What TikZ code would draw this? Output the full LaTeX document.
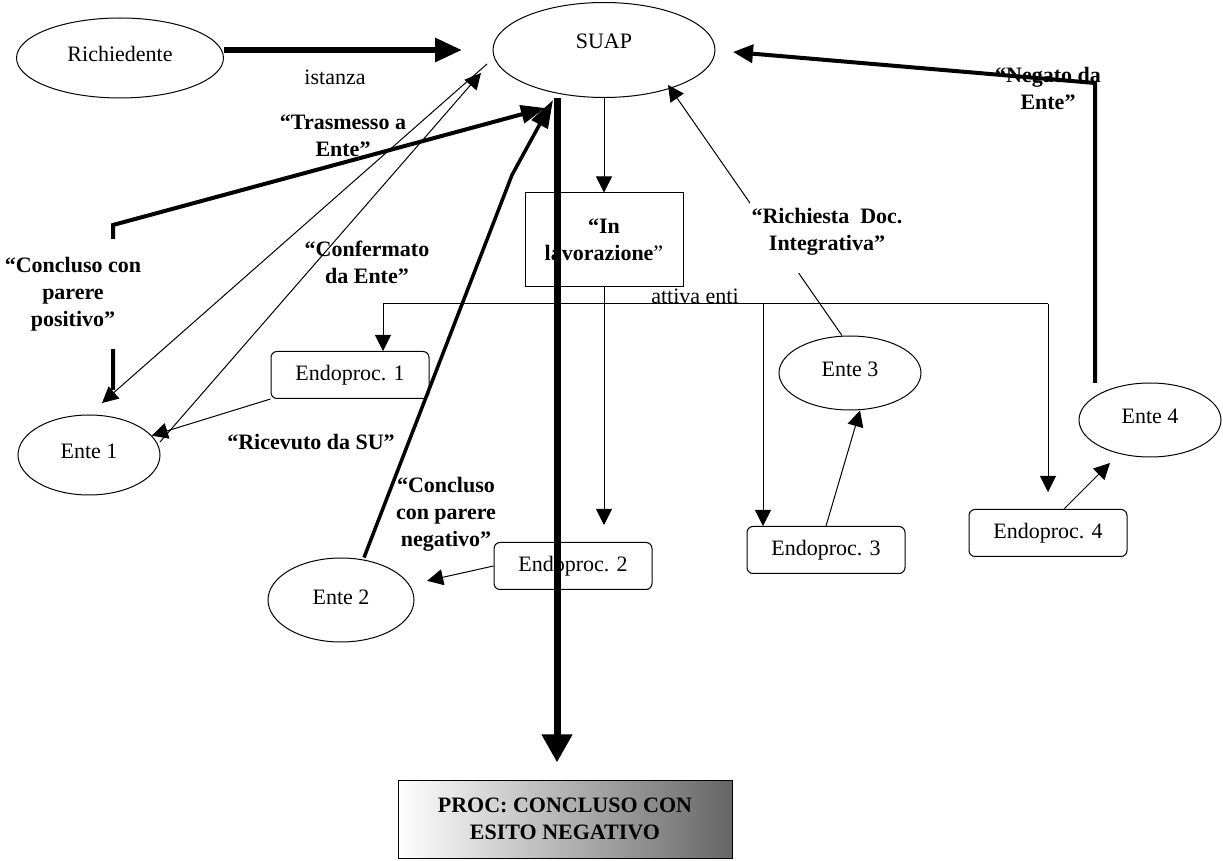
\documentclass[tikz,border=0pt]{standalone}
\usepackage{fontspec}
\setmainfont{Liberation Serif}
\usetikzlibrary{shapes.geometric}
\usetikzlibrary{arrows.meta}
\tikzset{
    x=0.5pt, y=-0.5pt,
    every node/.append style={
        font=\fontsize{11}{13.5}\selectfont
    },
    ente/.style={
        draw, ellipse,
        line width=0.5pt,
        inner sep=0pt,
        minimum width=71pt, minimum height=40pt,
        text height=7pt, text depth=3pt
    },
    endo/.style={
        draw, rounded corners=3pt,
        line width=0.5pt,
        minimum width=79pt, minimum height=23.5pt
    },
    stato/.style={
        font=\fontsize{11}{13.5}\selectfont\bfseries,
        align=center, inner sep=1pt
    },
    every edge/.append style={
        draw,
        line width=0.5pt,
        -{Triangle[length=8pt,width=8pt]}
    },
    grosso/.style={
        draw,
        line width=2pt,
        -{Triangle[length=12pt,width=9pt]}
    }
}

\begin{document}
\begin{tikzpicture}
    \useasboundingbox (0,0) rectangle (1223,861);

    \node[ente, minimum width=103.5pt] (rich) at (120,58) {Richiedente};
    \node[ente, minimum width=111pt, minimum height=47.5pt, text depth=8pt] (suap) at (604,50) {SUAP};
    \node[ente] (ente1) at (89,455) {Ente 1};
    \node[ente, minimum width=73pt, minimum height=42pt] (ente2) at (341,600) {Ente 2};
    \node[ente, minimum height=37pt] (ente3) at (850,373) {Ente 3};
    \node[ente, minimum height=37pt] (ente4) at (1150,420) {Ente 4};

    \node[draw, line width=0.5pt, minimum width=79pt, minimum height=47pt, stato] (lav) at (604,240) {“In\\lavorazione\textmd{”}};
    \node[endo] (endo1) at (350,375) {Endoproc. 1};
    \node[endo] (endo2) at (573,566) {Endoproc. 2};
    \node[endo] (endo3) at (826,550) {Endoproc. 3};
    \node[endo] (endo4) at (1048,533) {Endoproc. 4};
    \node[draw, line width=0.5pt, left color=white, right color=black!60,
          minimum width=167pt, minimum height=39pt, stato] (proc) at (565,819)
          {PROC: CONCLUSO CON\\ESITO NEGATIVO};

    \coordinate (ist) at (462,50);
    \coordinate (aS) at (487,64);
    \coordinate (aE) at (102,403);
    \coordinate (bS) at (160,442);
    \coordinate (bE) at (481,73);
    \coordinate (p0) at (113,390);
    \coordinate (p1) at (113,225);
    \coordinate (p2) at (545,108);
    \coordinate (n1) at (512,175);
    \coordinate (n2) at (553,100);
    \coordinate (v0) at (557,98);
    \coordinate (g0) at (1095,383);
    \coordinate (g1) at (1095,83);
    \coordinate (g2) at (733,52);
    \coordinate (r3) at (668,85);
    \coordinate (t2) at (604,525);
    \coordinate (t4) at (1110,463);
    \coordinate (b1) at (383,304);
    \coordinate (b3) at (763,304);
    \coordinate (b4) at (1048,304);

    \draw[line width=3pt, -{Triangle[length=13.5pt,width=11.5pt]}] (rich.east |- suap) -- (ist);
    \draw (suap) edge (lav)
          (lav) edge (t2);
    \draw[line width=0.5pt] (b1) -- (b4);
    \foreach \b/\e in {b1/endo1, b3/endo3}
        \draw (\b) edge (\b |- \e.north);
    \draw (b4) edge[shorten >=8.5pt] (endo4);
    \draw (aS) edge (aE)
          (bS) edge (bE);
    \draw (endo1.south west) edge (ente1)
          (endo2.west) edge[shorten >=9pt] (ente2)
          (endo3.north) edge ([xshift=5pt]ente3.south)
          ([xshift=8pt]endo4.north) edge (t4)
          ([xshift=-4pt]ente3.north) edge (r3);

    \draw[grosso] (p0) -- (p1) -- (p2);
    \draw[grosso, line width=1.75pt, -{Triangle[length=14pt,width=9pt]}] ([xshift=11.5pt]ente2.north) -- (n1) -- (n2);
    \draw[line width=3.5pt, -{Triangle[length=14pt,width=14.5pt]}, shorten >=8.5pt] (v0) -- (proc.north -| v0);
    \draw[grosso, -{Triangle[length=10pt,width=9pt]}] (g0) -- (g1) -- (g2);

    \node (lIst) at (335,77) {istanza};
    \node[stato] (lTrasm) at (343,136) {“Trasmesso a\\Ente”};
    \node[stato, fill=white, inner ysep=9pt] (lPos) at (73,294) {“Concluso con\\parere\\positivo”};
    \node[stato] (lConf) at (367,262) {“Confermato\\da Ente”};
    \node[stato] (lRic) at (311,442) {“Ricevuto da SU”};
    \node[stato] (lNeg) at (446,514) {“Concluso\\con parere\\negativo”};
    \node[stato, fill=white, inner ysep=8.5pt] (lDoc) at (827,232) {“Richiesta\ \ Doc.\\Integrativa”};
    \node[stato] (lNegato) at (1048,88) {“Negato da\\Ente”};
    \node (lAtt) at (695,296) {attiva enti};
\end{tikzpicture}
\end{document}
